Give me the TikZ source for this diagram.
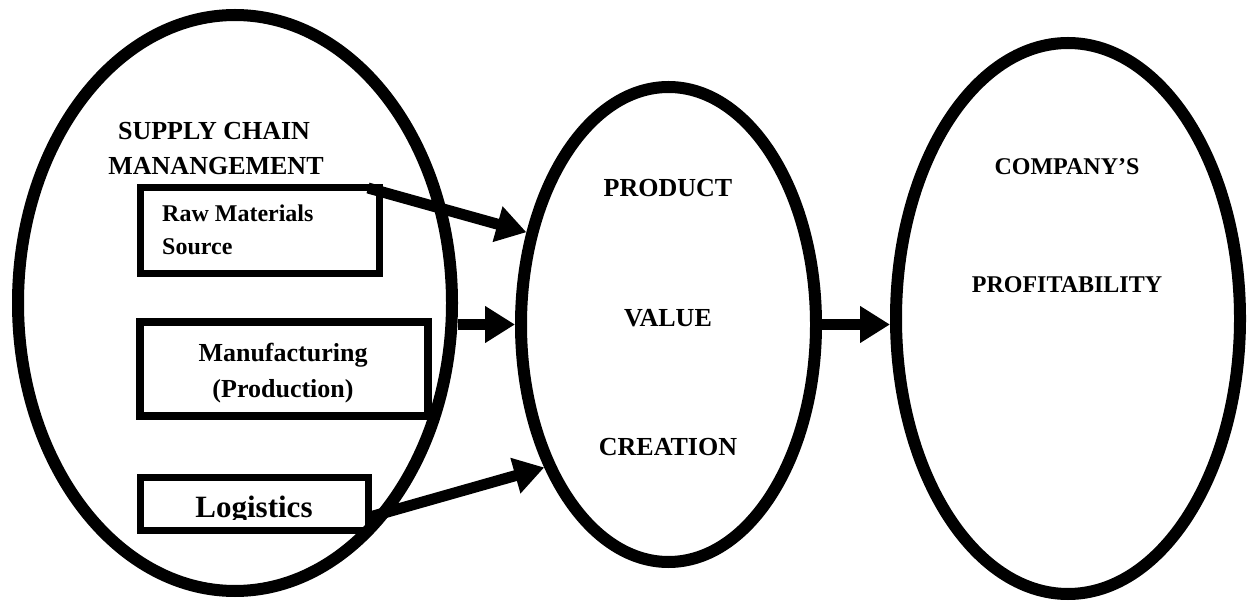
\documentclass[tikz,border=0pt]{standalone}
\usepackage{fontspec}
\setmainfont{Liberation Serif}
\usetikzlibrary{shapes.geometric,arrows.meta,calc}
\begin{document}
\begin{tikzpicture}[x=1pt,y=-1pt,
  oval/.style={draw,ellipse,line width=12pt,inner sep=0pt},
  box/.style={draw,rectangle,line width=7pt,inner sep=0pt,outer sep=0pt},
  lbl/.style={inner sep=0pt,anchor=base,font=\bfseries\fontsize{26}{30}\selectfont},
  lblsm/.style={inner sep=0pt,anchor=base,font=\bfseries\fontsize{24}{28}\selectfont},
  flow/.style={line width=11pt,-{Triangle[length=30pt,width=35pt]}}]
\useasboundingbox (0,0) rectangle (1247,601);
% ellipses
\node[oval,minimum width=434pt,minimum height=576pt] (scm) at (235,303) {};
\node[oval,minimum width=295pt,minimum height=475pt] (mid) at (668.5,324.5) {};
\node[oval,minimum width=344pt,minimum height=551pt] (prof) at (1068,318.5) {};
% boxes
\node[box,minimum width=239pt,minimum height=86pt] (raw) at (259.5,231) {};
\node[box,line width=8pt,minimum width=288pt,minimum height=94pt] (manu) at (284,369) {};
\node[box,minimum width=228pt,minimum height=53pt] (logi) at (254,503.5) {};
% texts
\node[lbl] (t1) at (214,140) {SUPPLY CHAIN};
\node[lbl] (t2) at (216,175) {MANANGEMENT};
\node[lblsm,anchor=base west] (t3) at (162,222) {Raw Materials};
\node[lblsm,anchor=base west] (t4) at (162,255) {Source};
\node[lbl] (t5) at (283,362) {Manufacturing};
\node[lbl] (t6) at (283,397) {(Production)};
\begin{scope}
\clip (140,470) rectangle (370,519);
\node[inner sep=0pt,anchor=base,font=\bfseries\fontsize{31}{34}\selectfont] (t7) at (254,517) {Logistics};
\end{scope}
\node[lbl] (t8) at (668,197) {PRODUCT};
\node[lbl] (t9) at (668,327) {VALUE};
\node[lbl] (t10) at (668,455) {CREATION};
\node[lblsm] (t11) at (1067,175) {COMPANY’S};
\node[lblsm] (t12) at (1067,293) {PROFITABILITY};
% arrows
\draw[flow] ([xshift=-11pt]raw.north east) -- (mid.147);
\draw[flow] (scm.east |- mid.west) -- (mid.west);
\draw[flow] ([yshift=-14pt]logi.east) -- (mid.229);
\draw[flow] (mid.east) -- (mid.east -| prof.west);
\end{tikzpicture}
\end{document}
